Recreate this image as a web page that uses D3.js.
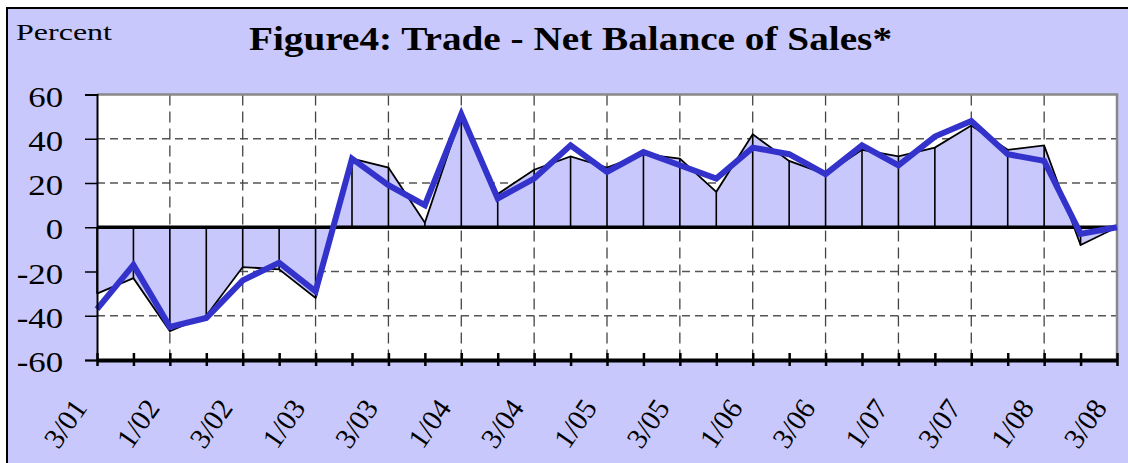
<!DOCTYPE html>
<html>
<head>
<meta charset="utf-8">
<script src="https://cdn.jsdelivr.net/npm/d3@7"></script>
<style>
  body { margin: 0; background: #fff; }
  svg { display: block; }
  text { font-family: "Liberation Serif", "Times New Roman", serif; fill: #000; }
</style>
</head>
<body>
<svg id="chart" width="1128" height="463" viewBox="0 0 1128 463"></svg>
<script>
// quarterly data, Q3 2001 - Q3 2008
let quarters = ["3/01","4/01","1/02","2/02","3/02","4/02","1/03","2/03","3/03","4/03",
    "1/04","2/04","3/04","4/04","1/05","2/05","3/05","4/05","1/06","2/06",
    "3/06","4/06","1/07","2/07","3/07","4/07","1/08","2/08","3/08"];
let tickLabels = ["3/01","1/02","3/02","1/03","3/03","1/04","3/04","1/05",
    "3/05","1/06","3/06","1/07","3/07","1/08","3/08"];
let netBalance = [-30,-23,-47,-40,-18,-19,-32,31,27,2,51,15,26,32,27,33,31,16,42,30,
    24,35,32,36,46,35,37,-8,0];
let smoothed = [-37,-17,-45,-41,-24,-16,-29,31,19,10,51,13,22,37,25,34,28,22,36,33,
    24,37,28,41,48,33,30,-3,0];
let yTicks = [-60,-40,-20,0,20,40,60];

let serif = '"Liberation Serif", "Times New Roman", serif';
let chart = d3.select("#chart");
let margins = {top: 94.5, right: 11, bottom: 103, left: 97};
let innerWidth = 1128 - margins.left - margins.right;
let innerHeight = 463 - margins.top - margins.bottom;

let x = d3.scalePoint(quarters, [0, innerWidth]);
let y = d3.scaleLinear([-60, 60], [innerHeight, 0]);

let data = quarters.map((q, i) => ({q: q, a: netBalance[i], b: smoothed[i]}));

// background, frame only visible on left and top
chart.append("rect")
    .attr("x", 7).attr("y", 8)
    .attr("width", 1128 - 7).attr("height", 463 - 8)
    .style("fill", "#c8c8fc");
chart.append("path")
    .attr("d", "M7,463V8H1128")
    .style("fill", "none")
    .style("stroke", "#000")
    .style("stroke-width", 2);

chart.append("text")
    .attr("x", 16).attr("y", 40)
    .attr("textLength", 96)
    .attr("lengthAdjust", "spacingAndGlyphs")
    .style("font-family", serif)
    .style("font-size", "23px")
    .text("Percent");

chart.append("text")
    .attr("x", 249).attr("y", 50)
    .attr("textLength", 643)
    .attr("lengthAdjust", "spacingAndGlyphs")
    .style("font-family", serif)
    .style("font-size", "33px")
    .style("font-weight", "bold")
    .text("Figure4: Trade - Net Balance of Sales*");

let g = chart.append("g")
    .attr("transform", `translate(${margins.left},${margins.top})`);

g.append("rect")
    .attr("width", innerWidth)
    .attr("height", innerHeight)
    .style("fill", "white");

// horizontal grid
g.append("g")
    .selectAll("line")
    .data(yTicks.filter(d => d != 0 && Math.abs(d) != 60))
    .join("line")
    .attr("x1", 0).attr("x2", innerWidth)
    .attr("y1", d => y(d)).attr("y2", d => y(d))
    .style("stroke", "#555")
    .style("stroke-width", 1.3)
    .style("stroke-dasharray", "8,5");

// vertical grid, every second quarter
g.append("g")
    .selectAll("line")
    .data(tickLabels.slice(1, -1))
    .join("line")
    .attr("x1", d => x(d)).attr("x2", d => x(d))
    .attr("y1", 0).attr("y2", innerHeight)
    .style("stroke", "#444")
    .style("stroke-width", 1.3)
    .style("stroke-dasharray", "11,6");

// area to zero
let area = d3.area()
    .x(d => x(d.q))
    .y0(y(0))
    .y1(d => y(d.a));

g.append("path")
    .datum(data)
    .attr("d", area)
    .style("fill", "#c8c8fc");

// drop lines
g.append("g")
    .selectAll("line")
    .data(data)
    .join("line")
    .attr("x1", d => x(d.q)).attr("x2", d => x(d.q))
    .attr("y1", d => y(d.a)).attr("y2", y(0))
    .style("stroke", "#000")
    .style("stroke-width", 1.6);

g.append("path")
    .datum(data)
    .attr("d", d3.line().x(d => x(d.q)).y(d => y(d.a)))
    .style("fill", "none")
    .style("stroke", "#000")
    .style("stroke-width", 1.8);

// zero line
g.append("line")
    .attr("x1", 0).attr("x2", innerWidth)
    .attr("y1", y(0)).attr("y2", y(0))
    .style("stroke", "#000")
    .style("stroke-width", 3.5);

// plot border top / right
g.append("path")
    .attr("d", `M0,0H${innerWidth}V${innerHeight}`)
    .style("fill", "none")
    .style("stroke", "#888")
    .style("stroke-width", 2.5);

g.append("path")
    .datum(data)
    .attr("d", d3.line().x(d => x(d.q)).y(d => y(d.b)))
    .style("fill", "none")
    .style("stroke", "#3333cc")
    .style("stroke-width", 6)
    .style("stroke-linejoin", "miter");

// y axis (tick labels stretched a bit wider, like the original)
let yAxis = g.append("g")
    .call(d3.axisLeft(y).tickValues(yTicks).tickSize(12).tickPadding(16.3)
        .tickFormat(d => String(d)));
yAxis.attr("font-family", null).attr("font-size", null);
yAxis.select(".domain").style("stroke", "#000").style("stroke-width", 2);
yAxis.selectAll(".tick line").style("stroke", "#000").style("stroke-width", 1.5);
yAxis.selectAll("text")
    .attr("transform", "scale(1.2,1)")
    .attr("dy", "0.4em")
    .style("font-size", "29px")
    .style("font-family", serif);

// x axis
let xAxis = g.append("g")
    .attr("transform", `translate(0,${innerHeight})`)
    .call(d3.axisBottom(x).tickSize(6).tickSizeOuter(0).tickFormat(""));
xAxis.attr("font-family", null).attr("font-size", null);
xAxis.select(".domain").style("stroke", "#000").style("stroke-width", 4);
xAxis.selectAll(".tick line")
    .attr("y1", -7)
    .style("stroke", "#000")
    .style("stroke-width", 2.5);

xAxis.selectAll(".label")
    .data(tickLabels)
    .join("text")
    .attr("class", "label")
    .attr("text-anchor", "end")
    .attr("transform", d => `translate(${x(d) - 9},${48}) rotate(-55)`)
    .style("font-family", serif)
    .style("font-size", "29px")
    .text(d => d);
</script>
</body>
</html>
